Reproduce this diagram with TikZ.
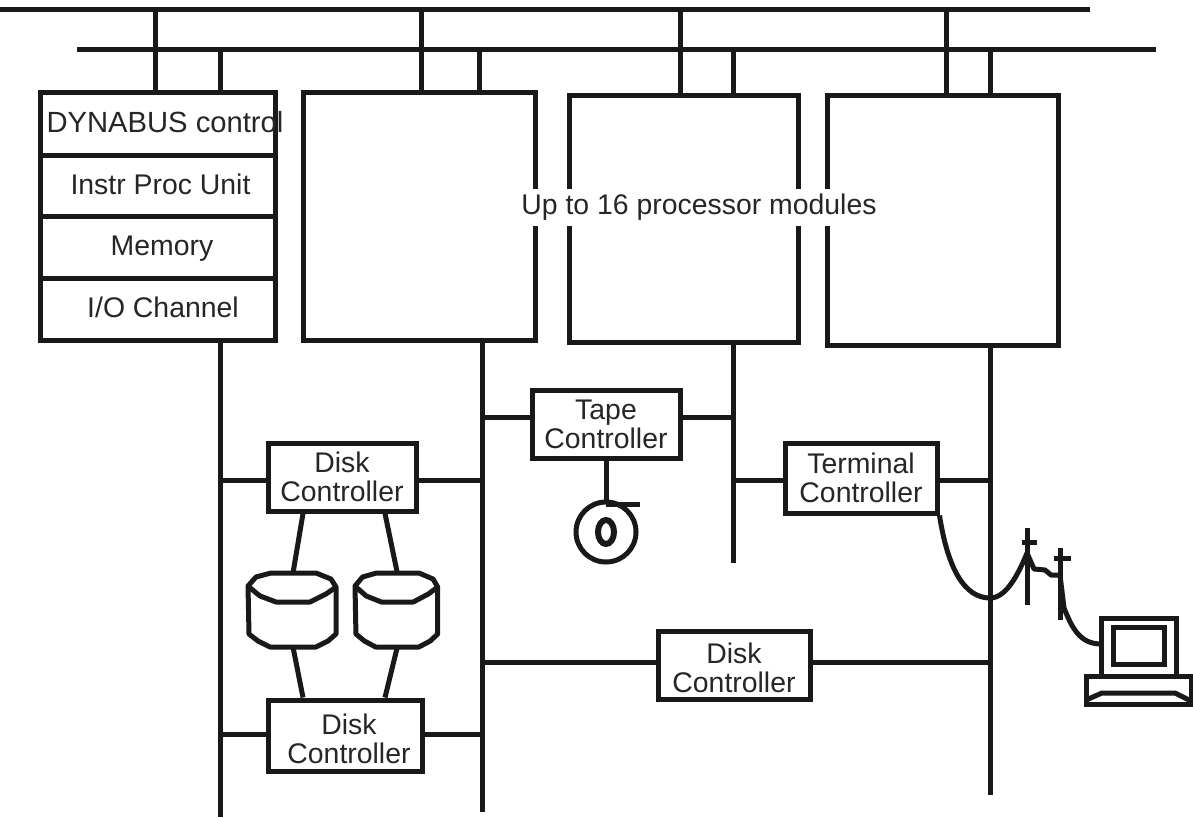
\documentclass[tikz,border=0pt]{standalone}
\usepackage{fontspec}
\setmainfont{Liberation Sans}
\tikzset{
    wire/.style = {line width = 5pt, color = black!90},
    box/.style = {draw = black!90, line width = 5pt, fill = white, inner sep = 0pt, align = center},
    lbl/.style = {inner sep = 0pt, align = center, text = black!85, font = \fontsize{28.4}{29}\selectfont},
    disk/.pic = {
        \draw[wire, fill = white, line join = round] (0, 13) -- (8, 4) -- (23, 0) -- (68, 0) -- (83, 6) -- (88, 14) -- (88, 61) -- (80, 68) -- (68, 74) -- (22, 74) -- (10, 68) -- (1, 61) -- cycle;
        \draw[wire, line join = round] (1, 14) -- (12, 23) -- (28, 29) -- (62, 29) -- (78, 21) -- (88, 14);
        \coordinate (-top) at (45, 0);
        \coordinate (-bot) at (45, 74);
    }
}

\begin{document}
\begin{tikzpicture}[x = 1pt, y = -1pt]
    \useasboundingbox[fill = white] (0, 0) rectangle (1193, 817);

    % buses
    \coordinate (busa) at (0, 9);
    \coordinate (busb) at (77, 49);
    \draw[wire] (busa) -- (1090, 9);
    \draw[wire] (busb) -- (1156, 49);

    % processor modules
    \node[box, minimum width = 235pt, minimum height = 63pt] (dyna) at (157.5, 123.5) {};
    \node[box, minimum width = 235pt, minimum height = 61pt] (instr) at (157.5, 185.5) {};
    \node[box, minimum width = 235pt, minimum height = 62pt] (mem) at (157.5, 247) {};
    \node[box, minimum width = 235pt, minimum height = 62pt] (chan) at (157.5, 309) {};
    \node[lbl, font = \fontsize{29.2}{30}\selectfont] (dynatext) at (165, 122) {DYNABUS control};
    \node[lbl] (instrtext) at (160.5, 184) {Instr Proc Unit};
    \node[lbl] (memtext) at (162, 249) {Memory};
    \node[lbl] (chantext) at (163, 307) {I/O Channel};
    \node[box, minimum width = 232pt, minimum height = 248pt] (procb) at (419, 216) {};
    \node[box, minimum width = 229pt, minimum height = 247pt] (procc) at (683.5, 218.5) {};
    \node[box, minimum width = 231pt, minimum height = 250pt] (procd) at (942.5, 220) {};
    \node[lbl, fill = white, minimum height = 37pt] (uptext) at (699, 207) {Up to 16 processor modules};

    % drops from the buses
    \foreach \x/\y/\target in {155/9/dyna, 220/49/dyna, 421/9/procb, 479/49/procb, 680/9/procc, 733/49/procc, 946/9/procd, 990/49/procd} {
        \coordinate (drop) at (\x, \y);
        \draw[wire] (drop) -- (drop |- \target.north);
    }

    % I/O buses
    \coordinate (ioa) at (220, 817);
    \coordinate (iob) at (482, 812);
    \coordinate (ioc) at (733, 563);
    \coordinate (iod) at (990, 795);
    \draw[wire] (ioa |- chan.south) -- (ioa);
    \draw[wire] (iob |- procb.south) -- (iob);
    \draw[wire] (ioc |- procc.south) -- (ioc);
    \draw[wire] (iod |- procd.south) -- (iod);

    % controllers
    \node[box, lbl, minimum width = 148pt, minimum height = 68pt] (tape) at (606, 424) {Tape\\Controller};
    \node[box, lbl, minimum width = 148pt, minimum height = 68pt] (diska) at (342, 477) {Disk\\Controller};
    \node[box, lbl, minimum width = 152pt, minimum height = 70pt] (term) at (861, 478) {Terminal\\Controller};
    \node[box, minimum width = 154pt, minimum height = 71pt] (diskb) at (345, 735.5) {};
    \node[box, minimum width = 152pt, minimum height = 68pt] (diskc) at (734, 665) {};
    \node[lbl] (diskbtext) at (349, 739) {Disk\\Controller};
    \node[lbl] (diskctext) at (734, 668) {Disk\\Controller};

    \draw[wire] (tape.west |- 0, 417) -- (iob |- 0, 417);
    \draw[wire] (tape.east |- 0, 417) -- (ioc |- 0, 417);
    \draw[wire] (diska.west |- 0, 480) -- (ioa |- 0, 480);
    \draw[wire] (diska.east |- 0, 480) -- (485, 480);
    \draw[wire] (term.west |- 0, 480) -- (ioc |- 0, 480);
    \draw[wire] (term.east |- 0, 480) -- (iod |- 0, 480);
    \draw[wire] (diskb.west |- 0, 734) -- (ioa |- 0, 734);
    \draw[wire] (diskb.east |- 0, 734) -- (iob |- 0, 734);
    \draw[wire] (diskc.west |- 0, 662) -- (iob |- 0, 662);
    \draw[wire] (diskc.east |- 0, 662) -- (iod |- 0, 662);

    % disks
    \pic (da) at (248, 573) {disk};
    \pic[xscale = 0.94] (db) at (355, 573) {disk};
    \draw[wire] ([xshift = -39pt]diska.south) -- (da-top);
    \draw[wire] ([xshift = 43pt]diska.south) -- (db-top);
    \draw[wire] ([xshift = -42pt]diskb.north) -- (da-bot);
    \draw[wire] ([xshift = 40pt]diskb.north) -- (db-bot);

    % tape drive
    \node[draw = black!90, line width = 5pt, circle, inner sep = 0pt, minimum size = 60pt] (spool) at (606, 532) {};
    \draw[wire, line width = 6pt] (spool.center) ellipse [x radius = 8, y radius = 12];
    \coordinate (spoolend) at (640, 504);
    \draw[wire] (tape.south) -- (606, 504);
    \draw[wire] (606, 504) -- (spoolend);

    % terminal
    \coordinate (posta) at (1027, 528);
    \coordinate (postb) at (1060, 548);
    \node[draw = black!90, line width = 5pt, inner sep = 0pt, minimum width = 51pt, minimum height = 37pt] (screen) at (1138.5, 645.5) {};
    \draw[wire] (1101, 675) |- (1176, 618) -- (1176, 675);
    \draw[wire, fill = white] (1086, 676) rectangle (1191, 704);
    \draw[wire, line join = round] (1086, 700) -- (1102, 693) -- (1175, 693) -- (1191, 701);
    \coordinate (termin) at (1101, 644);
    \draw[wire] (posta) -- (1027, 605);
    \draw[wire] (1022, 542) -- (1037, 542);
    \draw[wire] (postb) -- (1060, 620);
    \draw[wire] (1054, 558) -- (1071, 558);
    \draw[wire] (term.south east) .. controls (948, 570) and (965, 598) .. (990, 598) .. controls (1006, 598) and (1018, 575) .. (1027, 553);
    \draw[wire, line join = round] (1027, 553) -- (1034, 569) -- (1045, 570) -- (1051, 575) -- (1060, 575) -- (1064, 608) .. controls (1072, 628) and (1080, 644) .. (termin);
\end{tikzpicture}
\end{document}
